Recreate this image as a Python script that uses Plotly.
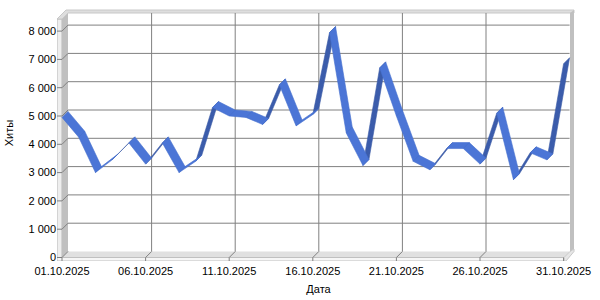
import plotly.graph_objects as go

# ---------------- data ----------------
dates = ["01.10.2025", "02.10.2025", "03.10.2025", "04.10.2025", "05.10.2025",
         "06.10.2025", "07.10.2025", "08.10.2025", "09.10.2025", "10.10.2025",
         "11.10.2025", "12.10.2025", "13.10.2025", "14.10.2025", "15.10.2025",
         "16.10.2025", "17.10.2025", "18.10.2025", "19.10.2025", "20.10.2025",
         "21.10.2025", "22.10.2025", "23.10.2025", "24.10.2025", "25.10.2025",
         "26.10.2025", "27.10.2025", "28.10.2025", "29.10.2025", "30.10.2025",
         "31.10.2025"]
hits = [4950, 4250, 3000, 3450, 4050, 3300, 4050, 3000, 3400, 5300,
        5000, 4950, 4700, 6100, 4650, 5050, 7950, 4400, 3250, 6700,
        5000, 3400, 3100, 3850, 3850, 3300, 5100, 2750, 3700, 3450,
        6850]
x_tick_days = [1, 6, 11, 16, 21, 26, 31]
y_tick_vals = [0, 1000, 2000, 3000, 4000, 5000, 6000, 7000, 8000]
y_tick_text = ["0", "1 000", "2 000", "3 000", "4 000", "5 000", "6 000", "7 000", "8 000"]

# ---------------- geometry (pixel calibration) ----------------
W, H = 600, 300
X0, PXD = 62.0, 16.72      # px of day 1, px per day (front plane)
Y0, PYV = 257.5, 0.0283    # px of value 0, px per unit (front plane)
DEPTH = 6.0                # 3D depth offset in px (right / up)
L, R, T, B = 57, 580, 5, 261

def dx(px):
    return 1 + (px - X0) / PXD

def dy(py):
    return (Y0 - py) / PYV

DX = DEPTH / PXD
DY = DEPTH / PYV
TOPV = dy(13 + DEPTH)
LAST = len(hits)

fig = go.Figure()
shapes = []

def poly(pts, fill, line="rgba(0,0,0,0)", width=0):
    path = "M " + " L ".join(f"{dx(a)},{dy(b)}" for a, b in pts) + " Z"
    shapes.append(dict(type="path", path=path, xref="x", yref="y", fillcolor=fill,
                       line=dict(color=line, width=width), layer="below"))

# walls / floor
poly([(57, 19), (62, 19), (62, 261), (57, 261)], "#eeeeee", "#b8b8b8", 1)
poly([(62, 257.5), (68, 251.5), (68, 13), (62, 19)], "#c0c0c0")
poly([(57, 19), (66, 10), (574, 10), (574, 13), (68, 13), (62, 19)], "#dedede", "#c8c8c8", 1)
poly([(570, 13), (574, 10), (574, 249), (570, 252)], "#c0c0c0")
poly([(62, 257.5), (68, 251.5), (570, 251.5), (564, 257.5)], "#e0e0e0")
poly([(57, 257.5), (564, 257.5), (564, 261), (57, 261)], "#f6f6f6", "#c0c0c0", 1)
poly([(564, 257.5), (570, 251.5), (574, 249), (574, 251.5), (566, 261), (564, 261)], "#e6e6e6", "#c8c8c8", 1)

GRID = dict(color="#808080", width=1)
# horizontal gridlines
for v in y_tick_vals:
    if v > 0:
        shapes.append(dict(type="line", xref="x", yref="y", x0=1 + DX, x1=LAST + DX,
                           y0=v + DY, y1=v + DY, line=GRID, layer="below"))
    shapes.append(dict(type="line", xref="x", yref="y", x0=1, x1=1 + DX,
                       y0=v, y1=v + DY, line=GRID, layer="below"))
    shapes.append(dict(type="line", xref="x", yref="y", x0=dx(57), x1=1,
                       y0=v, y1=v, line=GRID, layer="below"))
# vertical gridlines
for d in x_tick_days:
    if 1 < d < LAST:
        shapes.append(dict(type="line", xref="x", yref="y", x0=d + DX, x1=d + DX,
                           y0=DY, y1=TOPV + DY, line=GRID, layer="below"))
        shapes.append(dict(type="line", xref="x", yref="y", x0=d + DX, x1=d,
                           y0=DY, y1=0, line=GRID, layer="below"))
    shapes.append(dict(type="line", xref="x", yref="y", x0=d, x1=d,
                       y0=0, y1=dy(264), line=GRID, layer="below"))

# ribbon faces
days = list(range(1, LAST + 1))
dark_x, dark_y, light_x, light_y = [], [], [], []
for i in range(LAST - 1):
    xa, xb = days[i], days[i + 1]
    ya, yb = hits[i], hits[i + 1]
    qx = [xa, xb, xb + DX, xa + DX, xa, None]
    qy = [ya, yb, yb + DY, ya + DY, ya, None]
    steep_rise = (yb - ya) * PYV > (xb - xa) * PXD
    if steep_rise:
        dark_x += qx; dark_y += qy
    else:
        light_x += qx; light_y += qy

fig.add_trace(go.Scatter(x=dark_x, y=dark_y, mode="lines", fill="toself",
                         fillcolor="#3b5cab", line=dict(color="#3a5aa6", width=0.6),
                         hoverinfo="skip", showlegend=False))
fig.add_trace(go.Scatter(x=light_x, y=light_y, mode="lines", fill="toself",
                         fillcolor="#4b75d6", line=dict(color="#4670cf", width=0.6),
                         hoverinfo="skip", showlegend=False))

FONT = dict(family="Liberation Sans, Arial, sans-serif", size=11, color="#000000")

fig.update_layout(
    width=W, height=H, autosize=False,
    margin=dict(l=L, r=W - R, t=T, b=H - B),
    paper_bgcolor="white", plot_bgcolor="white",
    shapes=shapes, font=FONT, showlegend=False,
    xaxis=dict(range=[dx(L), dx(R)], showgrid=False, zeroline=False, showline=False,
               tickvals=x_tick_days, ticktext=[dates[d - 1] for d in x_tick_days],
               ticks="", tickfont=FONT, fixedrange=True, ticklabelstandoff=2,
               title=dict(text="Дата", font=FONT, standoff=9)),
    yaxis=dict(range=[dy(B), dy(T)], showgrid=False, zeroline=False, showline=False,
               tickvals=y_tick_vals, ticktext=y_tick_text, ticks="",
               tickfont=FONT, fixedrange=True,
               title=dict(text="Хиты", font=FONT, standoff=12)),
)

fig.write_html("out.html")
